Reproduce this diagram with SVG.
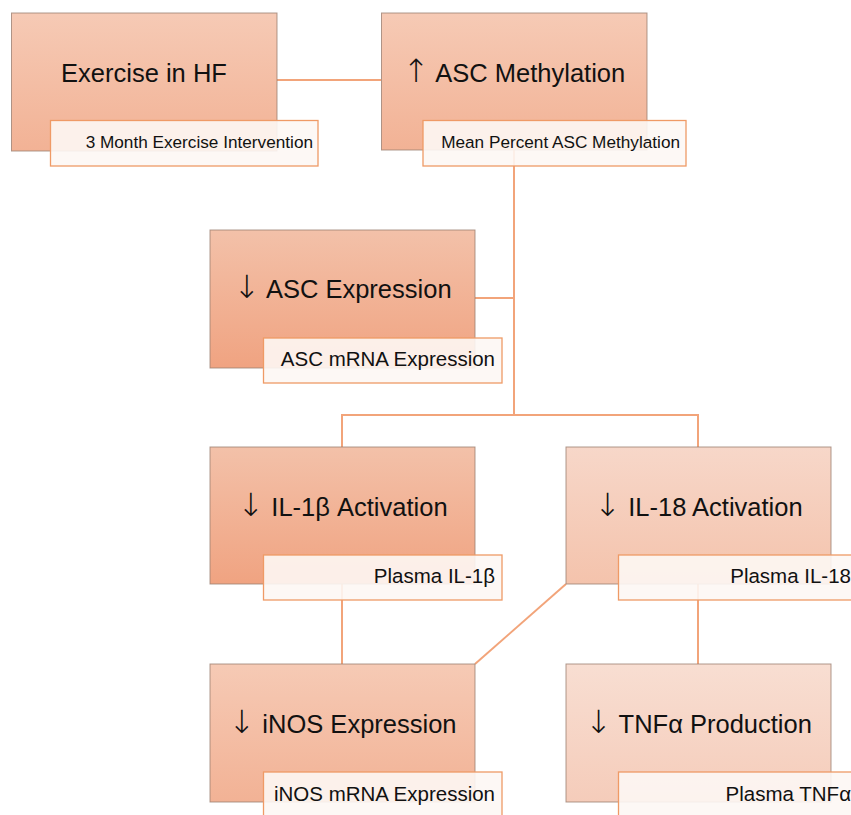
<svg xmlns="http://www.w3.org/2000/svg" width="851" height="815" viewBox="0 0 851 815">
<style>
.box{stroke:#9c7f72;stroke-width:1;stroke-opacity:0.8}
.sub{fill:#fdf7f4;fill-opacity:0.9;stroke:#ef9a66;stroke-width:1.3}
.title{font-family:"Liberation Sans","DejaVu Sans",sans-serif;font-size:25.5px;fill:#111;text-anchor:middle}
.arr{font-family:"DejaVu Sans",sans-serif;font-weight:200;font-size:32px}
.st{font-family:"Liberation Sans","DejaVu Sans",sans-serif;font-size:20.5px;fill:#111;text-anchor:end}
.st.small{font-size:17.2px}
.conn{fill:none;stroke:#f2a47a;stroke-width:2}
</style>
<defs>
<linearGradient id="g1" x1="0" y1="0" x2="0" y2="1"><stop offset="0" stop-color="#f6cab5"/><stop offset="1" stop-color="#f2b295"/></linearGradient>
<linearGradient id="g2" x1="0" y1="0" x2="0" y2="1"><stop offset="0" stop-color="#f3c1a9"/><stop offset="1" stop-color="#f0a381"/></linearGradient>
<linearGradient id="g3" x1="0" y1="0" x2="0" y2="1"><stop offset="0" stop-color="#f7d7c9"/><stop offset="1" stop-color="#f4c3ac"/></linearGradient>
<linearGradient id="g4" x1="0" y1="0" x2="0" y2="1"><stop offset="0" stop-color="#f8ded2"/><stop offset="1" stop-color="#f5ccba"/></linearGradient>
</defs>
<rect width="851" height="815" fill="#ffffff"/>
<g id="connectors">
<path class="conn" d="M277 80 H381"/>
<path class="conn" d="M514 150 V415"/>
<path class="conn" d="M475 298 H514"/>
<path class="conn" d="M342 447 V415 H698 V447"/>
<path class="conn" d="M342 584 V664"/>
<path class="conn" d="M698 584 V664"/>
<path class="conn" d="M566 584 L475 664"/>
</g>
<g id="n1">
<rect class="box" x="11.5" y="13" width="265.5" height="138" fill="url(#g1)"/>
<text class="title" x="144" y="82">Exercise in HF</text>
<rect class="sub" x="50.5" y="120.5" width="267.5" height="45.5"/>
<text class="st small" x="313" y="148">3 Month Exercise Intervention</text>
</g>
<g id="n2">
<rect class="box" x="381.5" y="13" width="265.5" height="137" fill="url(#g1)"/>
<text class="title" x="514" y="82"><tspan class="arr">↑</tspan> ASC Methylation</text>
<rect class="sub" x="423" y="120.5" width="263" height="45.5"/>
<text class="st small" x="680" y="148">Mean Percent ASC Methylation</text>
</g>
<g id="n3">
<rect class="box" x="210" y="230" width="265" height="138" fill="url(#g2)"/>
<text class="title" x="342.5" y="298"><tspan class="arr">↓</tspan> ASC Expression</text>
<rect class="sub" x="263.5" y="338" width="238.5" height="45"/>
<text class="st" x="495" y="366">ASC mRNA Expression</text>
</g>
<g id="n4">
<rect class="box" x="210" y="447" width="265" height="137" fill="url(#g2)"/>
<text class="title" x="342.5" y="516"><tspan class="arr">↓</tspan> IL-1β Activation</text>
<rect class="sub" x="263.5" y="555" width="238.5" height="45"/>
<text class="st" x="495" y="583">Plasma IL-1β</text>
</g>
<g id="n5">
<rect class="box" x="566" y="447" width="265" height="137" fill="url(#g3)"/>
<text class="title" x="698.5" y="516"><tspan class="arr">↓</tspan> IL-18 Activation</text>
<rect class="sub" x="618.5" y="555" width="238.5" height="45"/>
<text class="st" x="851" y="583">Plasma IL-18</text>
</g>
<g id="n6">
<rect class="box" x="210" y="664" width="265" height="138" fill="url(#g1)"/>
<text class="title" x="342.5" y="733"><tspan class="arr">↓</tspan> iNOS Expression</text>
<rect class="sub" x="263.5" y="772" width="238.5" height="45"/>
<text class="st" x="495" y="801">iNOS mRNA Expression</text>
</g>
<g id="n7">
<rect class="box" x="566" y="664" width="265" height="138" fill="url(#g4)"/>
<text class="title" x="698.5" y="733"><tspan class="arr">↓</tspan> TNFα Production</text>
<rect class="sub" x="618.5" y="772" width="238.5" height="45"/>
<text class="st" x="851" y="801">Plasma TNFα</text>
</g>
</svg>
